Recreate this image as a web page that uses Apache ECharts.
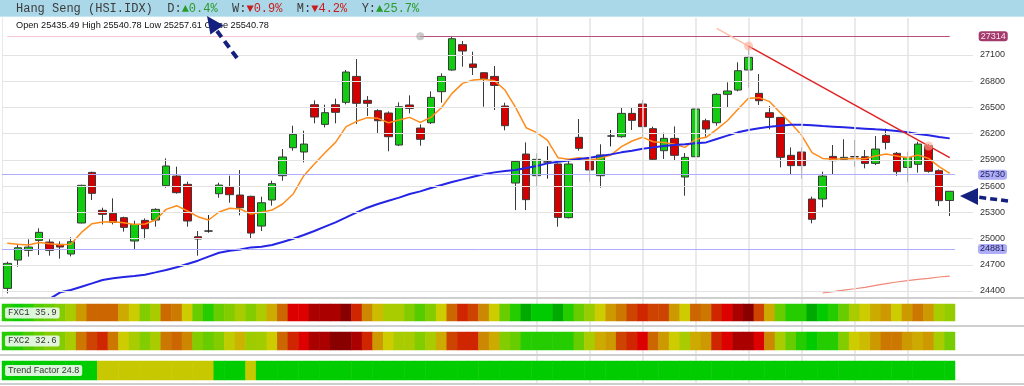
<!DOCTYPE html>
<html><head><meta charset="utf-8">
<script src="https://cdn.jsdelivr.net/npm/echarts@6/dist/echarts.min.js"></script>
<style>html,body{margin:0;padding:0;background:#fff}#c{width:1024px;height:386px}</style>
</head><body><div id="c"></div>
<script>
// ---------- data ----------
const title = 'Hang Seng (HSI.IDX)';
const perfKeys = ['D', 'W', 'M', 'Y'];
const perfVals = [0.4, -0.9, -4.2, 25.7];

const days = Array.from({length: 90}, (_, i) => 'D' + (i + 1));

const openArr = [24430,24754,24865,24979,24960,24934,24823,25178,25757,25323,
25288,25239,24972,25208,25212,25605,25715,25620,25021,25086,
25513,25590,25498,25483,25143,25441,25719,26039,25990,26531,
26306,26531,26558,26855,26581,26463,26436,26070,26528,26264,
26325,26680,26928,27218,26997,26897,26855,26516,25635,25967,
25719,25876,25853,25239,26158,25898,25719,26173,26165,26432,
26539,26257,26005,26146,25704,25936,26348,26325,26650,26699,
26928,26661,26440,26386,25952,25990,25452,25452,25940,25906,
25936,25936,25860,26180,25975,25814,25849,26062,25776,25435.49];
const closeArr = [24716,24895,24903,25071,24865,24903,24964,25609,25517,25277,
25185,25128,25162,25113,25334,25830,25525,25201,24995,25086,
25612,25502,25353,25063,25410,25628,25933,26192,26081,26390,
26440,26444,26905,26547,26547,26348,26165,26508,26489,26135,
26615,26855,27286,27145,26958,26829,26752,26291,25883,25445,
25906,25876,25242,25853,26032,25784,25956,26173,26432,26352,
26280,25906,26146,25952,25929,26482,26253,26650,26688,26920,
27073,26577,26386,25929,25834,25834,25220,25715,25891,25929,
25936,25860,26024,26100,25765,25929,26081,25769,25433,25540.78];
const lowArr = [24373,24678,24793,24812,24804,24770,24796,25174,25441,25162,
25162,25079,24880,24991,25136,25582,25513,25136,24804,25067,
25467,25410,25265,25002,25086,25376,25662,26005,25872,26318,
26272,26318,26535,26310,26402,26196,25998,26058,26432,26062,
26310,26554,26920,26966,26871,26508,26470,26238,25326,25326,
25589,25685,25136,25231,26005,25650,25582,26055,26154,26242,
26165,25898,25910,25898,25490,25929,26165,26291,26501,26684,
26726,26528,26249,25814,25727,25685,25174,25357,25727,25891,
25822,25803,25841,26020,25719,25643,25754,25754,25372,25257.61];
const highArr = [24735,24926,24991,25117,24991,24968,25014,25616,25765,25353,
25460,25250,25204,25231,25346,25917,25822,25650,25086,25269,
25639,25719,25784,25490,25479,25662,26024,26291,26234,26581,
26531,26600,26928,27054,26630,26478,26455,26558,26638,26306,
26684,26890,27314,27260,27138,26905,26974,26554,25891,26100,
25975,26055,25860,25891,26367,25936,26078,26242,26493,26493,
26585,26280,26211,26283,25978,26489,26371,26661,26787,27016,
27202,26882,26516,26390,26043,26043,25479,25765,26070,26135,
26127,26013,26173,26257,25990,25994,26108,26081,25792,25540.78];

const maFast = [24945,24934,24926,24956,24941,24930,24934,25070,25170,25189,
25193,25182,25162,25166,25212,25334,25376,25315,25250,25212,
25304,25346,25338,25281,25300,25326,25395,25510,25719,25853,
25982,26100,26280,26341,26383,26375,26325,26356,26386,26329,
26386,26497,26661,26775,26813,26821,26806,26699,26501,26268,
26211,26127,25925,25906,25925,25898,25917,25955,26051,26116,
26158,26108,26100,26078,26043,26135,26158,26249,26348,26478,
26604,26612,26566,26440,26318,26184,25982,25917,25906,25914,
25917,25914,25944,25967,25944,25925,25956,25917,25822,25746];
const maMid = [null,null,null,null,24310,24385,24411,24449,24487,24526,
24545,24560,24571,24587,24613,24640,24671,24709,24747,24793,
24838,24861,24876,24899,24907,24926,24960,24998,25040,25086,
25136,25185,25242,25300,25353,25395,25433,25468,25509,25540,
25578,25612,25647,25677,25708,25735,25757,25772,25784,25807,
25830,25860,25879,25894,25910,25925,25944,25963,25986,26005,
26028,26043,26058,26070,26078,26089,26100,26139,26177,26215,
26242,26261,26280,26291,26302,26302,26295,26287,26280,26272,
26264,26257,26249,26242,26230,26215,26196,26181,26161,26146];
const maSlowIdx = [77,78,79,80,81,82,83,84,85,86,87,88,89];
const maSlow = [24377,24392,24411,24426,24442,24465,24484,24503,24518,24533,24545,24560,24571];

const trendIdx = [70, 89];
const trendVal = [27202, 25925];
const trendExtIdx = [67, 70];
const trendExtVal = [27404, 27202];
const touchIdx = [70, 87];
const touchVal = [27202, 26059];
const pivotIdx = [39];
const pivotVal = [27314];

const resistance = 27314;
const supports = [25730, 24881];

const yTicks = [24400,24700,25000,25300,25600,25900,26200,26500,26800,27100];
const vGridIdx = [50,55,60,65,70,75,80,85];

const fxc1 = [23,20,23,29,31,34,39,54.5,63.6,63.6,
63.6,51.5,45.5,34,39,63,60,45.5,31,23,
31,34,39,34,40,51.5,63.6,81.8,81.8,90.9,
90.9,90.9,98,75,57.5,48.5,39,39,34,29,
34,45.5,63.6,75,69.7,57.5,45.5,31,23,9,
18,18,9,23,31,36,45.5,54.5,60.6,69.7,
75,69.7,69.7,54.5,45.5,63.6,60.6,75,81.8,90.9,
98,69.7,51.5,31,23,23,9,18,23,31,
39,45.5,51.5,54.5,45.5,54.5,60.6,54.5,39,35.9];
const fxc2 = [23,23,28,31,34,34,39,60.6,69.7,75,
60.6,45.5,39,34,39,60.6,63.6,58,34,31,
34,43,50,37,38,45.5,63.6,75,81.8,90.9,
90.9,98,98,90.9,75,54.5,45.5,39,39,34,
39,51.5,69.7,75,75,57.5,51.5,34,31,23,
23,23,23,23,31,39,51.5,54.5,69.7,75,
81.8,63.6,54.5,45.5,39,51.5,54.5,75,81.8,90.9,
90.9,81.8,57.5,39,31,23,18,23,23,34,
45.5,48.5,54.5,60.6,60.6,54.5,51.5,54.5,39,32.6];
const trendFactor = [31,30,29,27,26,25,24,23,21,
19,17,15,14,13,14,15,16,17,18,19,
21,22,21,19,
21,23,26,29,32,35,38,40,42,43,
44,43,42,41,40,39,38,37,37,38,
39,40,41,41,40,39,37,35,33,31,
30,29,28,27,27,26,26,27,28,29,
30,31,32,33,33,32,31,30,29,28,
27,26,26,27,28,28,27,27,26,26,
25,25,25,25,25,24.8];

const fxcColors = ['#008800','#00aa00','#00cc00','#44cc00','#99cc00','#cccc00','#cc9900','#cc6600','#cc3300','#dd0000','#aa0000','#800000'];

// ---------- build ----------
const last = openArr.length - 1;
const candleData = openArr.map((o, i) => [o, closeArr[i], lowArr[i], highArr[i]]);
const pairs = (idx, vals) => idx.map((k, i) => [days[k], vals[i]]);
const heat = arr => arr.map((v, i) => [i, 0, v]);

const Y_MIN = 24320, Y_MAX = 27523;
const GTOP = 18, GH = 280;

let headerText = '{n|' + title + '}';
perfKeys.forEach((k, i) => {
  const v = perfVals[i];
  headerText += '{n|  ' + k + ':}' + (v >= 0 ? '{u|\u25B2' + v.toFixed(1) + '%}' : '{d|\u25BC' + Math.abs(v).toFixed(1) + '%}');
});
const mono = {fontFamily: 'Liberation Mono, DejaVu Sans Mono, monospace', fontSize: 12};

const chart = echarts.init(document.getElementById('c'), null, {width: 1024, height: 386});

const lvlLabel = {
  show: true, position: 'end', distance: 23, fontSize: 9, fontFamily: 'Liberation Sans, Arial',
  color: '#22225a', backgroundColor: '#adadf8', padding: [1, 2, 0, 2], borderRadius: 3
};
const hidden = {show: false, axisLine: {show: false}, axisTick: {show: false}, axisLabel: {show: false},
                splitLine: {show: false}, splitArea: {show: false}};

chart.setOption({
  animation: false,
  backgroundColor: '#ffffff',
  grid: [
    {left: 2, right: 69, top: GTOP, height: GH},
    {left: 2, right: 51, top: GTOP, height: GH},
    {left: 2, right: 69, top: 304, height: 17},
    {left: 2, right: 69, top: 332, height: 18},
    {left: 2, right: 69, top: 361, height: 19},
    {left: 2, right: 69, top: GTOP, height: 366}
  ],
  xAxis: [
    Object.assign({type: 'category', gridIndex: 0, data: days, boundaryGap: true}, hidden),
    Object.assign({type: 'value', gridIndex: 1, min: 0, max: 1}, hidden),
    Object.assign({type: 'category', gridIndex: 2, data: days}, hidden),
    Object.assign({type: 'category', gridIndex: 3, data: days}, hidden),
    Object.assign({type: 'category', gridIndex: 4, data: days}, hidden),
    Object.assign({type: 'category', gridIndex: 5, data: days}, hidden)
  ],
  yAxis: [
    {type: 'value', gridIndex: 0, min: Y_MIN, max: Y_MAX, position: 'left',
     axisLabel: {show: false}, axisTick: {show: false}, splitLine: {show: false},
     axisLine: {show: true, lineStyle: {color: '#e8e8e8'}}},
    {type: 'value', gridIndex: 1, min: Y_MIN, max: Y_MAX, position: 'right',
     axisLine: {show: false}, axisTick: {show: false}, splitLine: {show: false}, splitArea: {show: false},
     axisLabel: {show: true, customValues: yTicks, margin: 7, fontSize: 9, color: '#333',
                 fontFamily: 'Liberation Sans, Arial', formatter: v => String(v)}},
    Object.assign({type: 'category', gridIndex: 2, data: ['FXC1']}, hidden),
    Object.assign({type: 'category', gridIndex: 3, data: ['FXC2']}, hidden),
    Object.assign({type: 'category', gridIndex: 4, data: ['Trend Factor']}, hidden),
    Object.assign({type: 'value', gridIndex: 5, min: 0, max: 1}, hidden)
  ],
  visualMap: [
    {type: 'continuous', show: false, seriesIndex: [11, 12], dimension: 2, min: 0, max: 100,
     inRange: {color: fxcColors}},
    {type: 'piecewise', show: false, seriesIndex: 13, dimension: 2,
     pieces: [{gte: 20, color: '#00cc00'}, {lt: 20, color: '#c8c800'}]}
  ],
  series: [
    {name: 'hgrid', type: 'line', xAxisIndex: 1, yAxisIndex: 1, data: [], z: 1, silent: true,
     markLine: {silent: true, symbol: ['none', 'none'], label: {show: false},
       lineStyle: {color: '#e3e3e3', width: 1, type: 'solid'},
       data: yTicks.map(v => ({yAxis: v}))}},
    {name: 'vgrid', type: 'line', xAxisIndex: 5, yAxisIndex: 5, data: [], z: 1, silent: true,
     markLine: {silent: true, symbol: ['none', 'none'], label: {show: false},
       lineStyle: {color: '#e3e3e3', width: 1.5, type: 'solid'},
       data: vGridIdx.map(k => ({xAxis: days[k]}))}},
    {name: 'HSI', type: 'candlestick', xAxisIndex: 0, yAxisIndex: 0, data: candleData, z: 3,
     barWidth: 8,
     itemStyle: {color: '#11cc11', color0: '#d40000', borderColor: '#3a3a3a', borderColor0: '#3a3a3a',
                 borderColorDoji: '#222', borderWidth: 1}},
    {name: 'MA fast', type: 'line', xAxisIndex: 0, yAxisIndex: 0, data: maFast, symbol: 'none', z: 4,
     lineStyle: {color: '#ff8c1a', width: 1.5}},
    {name: 'MA mid', type: 'line', xAxisIndex: 0, yAxisIndex: 0, data: maMid, symbol: 'none', z: 4,
     lineStyle: {color: '#2424e6', width: 2}},
    {name: 'MA slow', type: 'line', xAxisIndex: 0, yAxisIndex: 0, data: pairs(maSlowIdx, maSlow), symbol: 'none', z: 4,
     lineStyle: {color: '#f08878', width: 1.2}},
    {name: 'trend ext', type: 'line', xAxisIndex: 0, yAxisIndex: 0, data: pairs(trendExtIdx, trendExtVal), symbol: 'none', z: 5,
     lineStyle: {color: '#ffbcaa', width: 1.5}},
    {name: 'trend', type: 'line', xAxisIndex: 0, yAxisIndex: 0, data: pairs(trendIdx, trendVal), symbol: 'none', z: 5,
     lineStyle: {color: '#e02222', width: 1.5}},
    {name: 'levels', type: 'line', xAxisIndex: 0, yAxisIndex: 0, data: [], z: 2, silent: true,
     markLine: {silent: true, symbol: ['none', 'none'],
       data: [
         ...supports.map(v => ({yAxis: v, lineStyle: {color: '#aeaefc', width: 1, type: 'solid'},
                                 label: Object.assign({}, lvlLabel, {formatter: String(v)})})),
         [{coord: [days[0], resistance], lineStyle: {color: '#f4c4d2', width: 1, type: 'solid'}, label: {show: false}},
          {coord: [days[pivotIdx[0]], resistance]}],
         [{coord: [days[pivotIdx[0]], resistance], lineStyle: {color: '#b4507c', width: 1, type: 'solid'},
           label: Object.assign({}, lvlLabel, {formatter: String(resistance), distance: 29,
                                 color: '#fbe4ee', backgroundColor: '#a33a6c'})},
          {coord: [days[last], resistance]}]
       ]}},
    {name: 'touch', type: 'scatter', xAxisIndex: 0, yAxisIndex: 0, data: pairs(touchIdx, touchVal), z: 6,
     symbolSize: 9, itemStyle: {color: 'rgba(255,170,150,0.75)'}},
    {name: 'pivot', type: 'scatter', xAxisIndex: 0, yAxisIndex: 0, data: pairs(pivotIdx, pivotVal), z: 6,
     symbolSize: 8, itemStyle: {color: 'rgba(170,170,170,0.8)'}},
    {name: 'FXC1', type: 'heatmap', xAxisIndex: 2, yAxisIndex: 2, data: heat(fxc1), z: 5,
     itemStyle: {borderWidth: 0}, emphasis: {disabled: true}},
    {name: 'FXC2', type: 'heatmap', xAxisIndex: 3, yAxisIndex: 3, data: heat(fxc2), z: 5,
     itemStyle: {borderWidth: 0}, emphasis: {disabled: true}},
    {name: 'Trend Factor', type: 'heatmap', xAxisIndex: 4, yAxisIndex: 4, data: heat(trendFactor), z: 5,
     itemStyle: {borderWidth: 0}, emphasis: {disabled: true}}
  ],
  graphic: [
    {type: 'rect', shape: {x: 0, y: 0, width: 1024, height: 16}, style: {fill: '#aad8e8'}, z: 10},
    {type: 'rect', shape: {x: 0, y: 16, width: 1024, height: 1}, style: {fill: '#c6e6f0'}, z: 10},
    {type: 'text', z: 11, style: {x: 16, y: 8.5, verticalAlign: 'middle', text: headerText,
      rich: {n: Object.assign({fill: '#3c3c3c'}, mono), u: Object.assign({fill: '#2a9a2a'}, mono),
             d: Object.assign({fill: '#cc1a1a'}, mono)}}},
    {type: 'text', z: 11, style: {x: 16, y: 25, verticalAlign: 'middle', fill: '#111',
      font: '9.2px "Liberation Sans", Arial, sans-serif',
      text: 'Open ' + openArr[last] + ' High ' + highArr[last] + ' Low ' + lowArr[last] + ' Close ' + closeArr[last]}},
    {type: 'rect', shape: {x: 0, y: 297, width: 1024, height: 2}, style: {fill: '#cfcfcf'}, z: 10},
    {type: 'rect', shape: {x: 0, y: 325, width: 1024, height: 2}, style: {fill: '#cfcfcf'}, z: 10},
    {type: 'rect', shape: {x: 0, y: 354, width: 1024, height: 2}, style: {fill: '#cfcfcf'}, z: 10},
    {type: 'rect', shape: {x: 0, y: 383, width: 1024, height: 2}, style: {fill: '#cfcfcf'}, z: 10},
    {type: 'text', z: 12, style: {x: 5, y: 313, verticalAlign: 'middle', text: 'FXC1 ' + fxc1[last],
      font: '9px "Liberation Mono", monospace', fill: '#333', backgroundColor: 'rgba(236,248,236,0.92)',
      padding: [1, 3, 1, 3], borderRadius: 2}},
    {type: 'text', z: 12, style: {x: 5, y: 341, verticalAlign: 'middle', text: 'FXC2 ' + fxc2[last],
      font: '9px "Liberation Mono", monospace', fill: '#333', backgroundColor: 'rgba(236,248,236,0.92)',
      padding: [1, 3, 1, 3], borderRadius: 2}},
    {type: 'text', z: 12, style: {x: 5, y: 370.5, verticalAlign: 'middle', text: 'Trend Factor ' + trendFactor[last],
      font: '9px "Liberation Sans", Arial, sans-serif', fill: '#333', backgroundColor: 'rgba(236,248,236,0.92)',
      padding: [1, 3, 1, 3], borderRadius: 2}},
    {type: 'polyline', z: 13, shape: {points: [[237, 58], [217, 31]]},
      style: {stroke: '#14207e', lineWidth: 4, lineDash: [8, 5], fill: null}},
    {type: 'polygon', z: 13, shape: {points: [[207, 16], [223.4, 25.2], [210.4, 34.4]]}, style: {fill: '#14207e'}},
    {type: 'polyline', z: 13, shape: {points: [[1008, 201], [977, 197]]},
      style: {stroke: '#14207e', lineWidth: 3.5, lineDash: [7, 4], fill: null}},
    {type: 'polygon', z: 13, shape: {points: [[960, 196], [978, 188], [978, 205]]}, style: {fill: '#14207e'}}
  ]
});
</script></body></html>
